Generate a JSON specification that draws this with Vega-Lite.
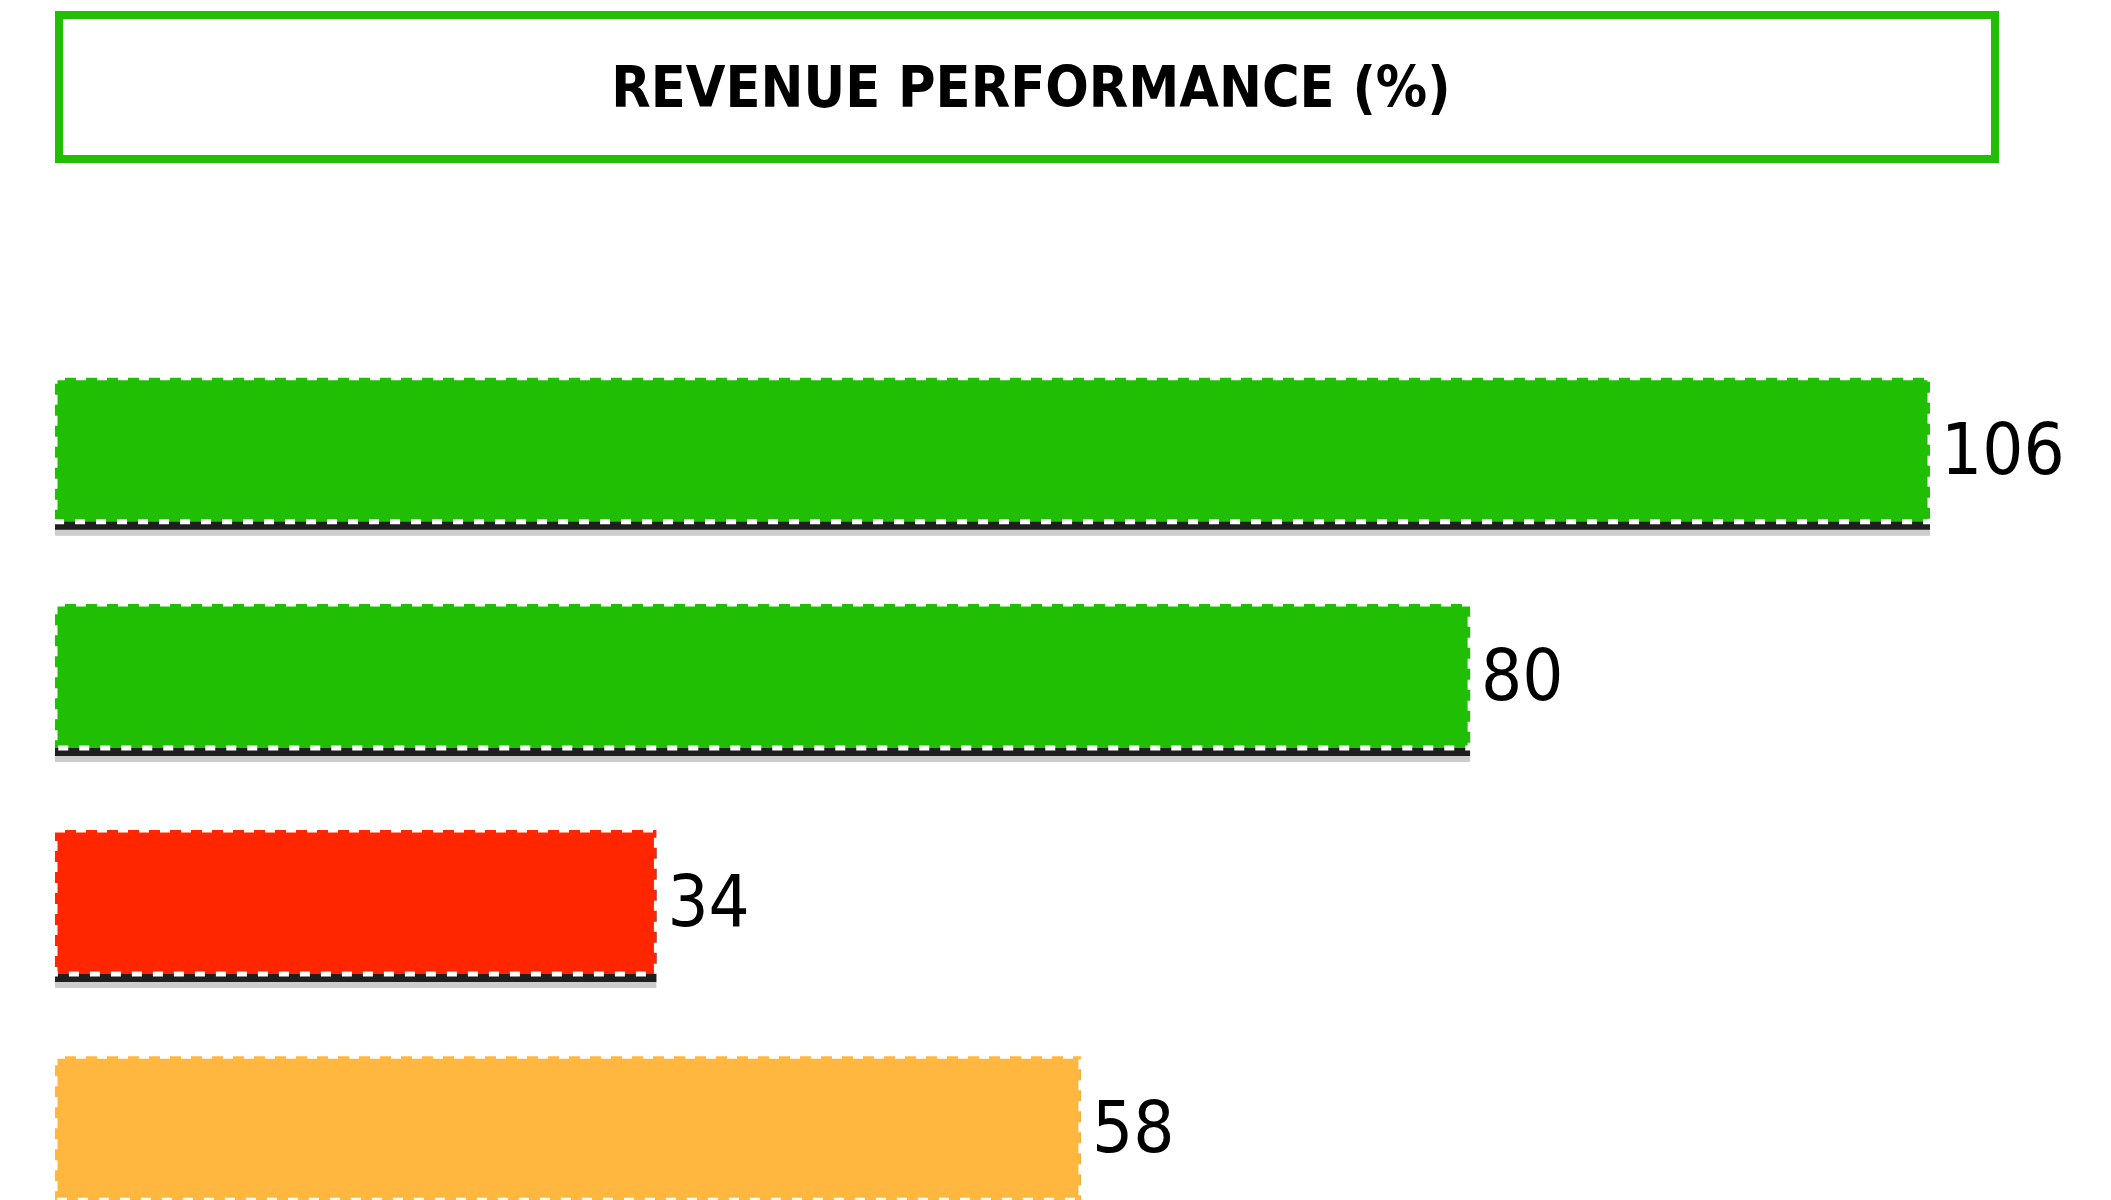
{
  "$schema": "https://vega.github.io/schema/vega-lite/v6.json",
  "padding": {"left": 52, "top": 11, "right": 0, "bottom": 0},
  "background": "white",
  "config": {"view": {"stroke": null}},
  "spacing": 174,
  "vconcat": [
    {
      "width": 1936,
      "height": 144,
      "data": {"values": [{"title": "REVENUE PERFORMANCE (%)"}]},
      "layer": [
        {"mark": {"type": "rect", "fill": "white", "stroke": "#21BF03", "strokeWidth": 8}, "encoding": {}},
        {"mark": {"type": "text", "font": "DejaVu Sans Condensed, Roboto, sans-serif", "fontWeight": "bold", "fontSize": 57, "color": "black", "baseline": "middle", "align": "center", "dx": 4, "dy": 3},
         "encoding": {"text": {"field": "title"}}}
      ]
    },
    {
      "width": 1936,
      "height": 904,
      "data": {"values": [
        {"item": "A", "value": 106, "status": "Above"},
        {"item": "B", "value": 80, "status": "On track"},
        {"item": "C", "value": 34, "status": "Below"},
        {"item": "D", "value": 58, "status": "Warning"}
      ]},
      "encoding": {
        "y": {"field": "item", "type": "nominal", "sort": null, "axis": null,
              "scale": {"paddingInner": 0.363, "paddingOuter": 0.18}},
        "x": {"field": "value", "type": "quantitative", "axis": null,
              "scale": {"domain": [0, 106], "range": [-4, 1871], "nice": false, "zero": true}}
      },
      "layer": [
        {"mark": {"type": "bar", "color": "black", "opacity": 0.2, "yOffset": 14}},
        {"mark": {"type": "bar", "color": "black", "opacity": 0.85, "yOffset": 8}},
        {"mark": {"type": "bar", "stroke": "white", "strokeWidth": 5, "strokeDash": [10, 11]},
         "encoding": {"color": {"field": "status", "type": "nominal", "legend": null,
           "scale": {"domain": ["Above", "On track", "Below", "Warning"], "range": ["#21BF03", "#21BF03", "#FF2600", "#FFB73F"]}}}},
        {"mark": {"type": "text", "font": "DejaVu Sans Condensed, Roboto, sans-serif", "fontSize": 72, "color": "black", "align": "left", "baseline": "middle", "dx": 11, "dy": 2},
         "encoding": {"text": {"field": "value", "type": "quantitative"}}}
      ]
    }
  ]
}
